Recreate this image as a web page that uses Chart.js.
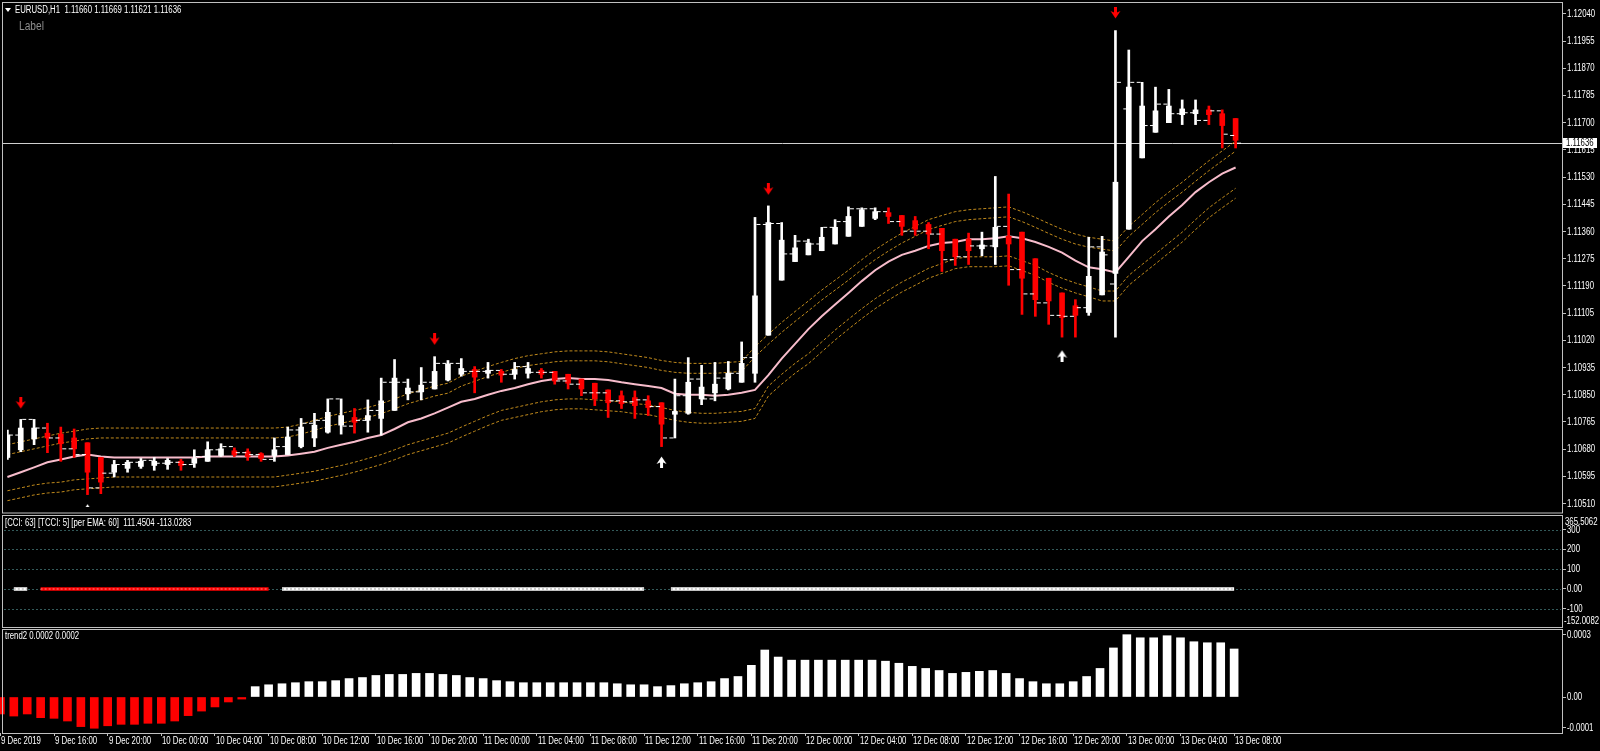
<!DOCTYPE html>
<html><head><meta charset="utf-8"><title>EURUSD,H1</title>
<script src="https://cdn.jsdelivr.net/npm/chart.js@4.4.1/dist/chart.umd.min.js"></script>
<style>
html,body{margin:0;padding:0;background:#000;}
body{position:relative;width:1600px;height:751px;overflow:hidden;}
canvas{position:absolute;left:0;}
.t{position:absolute;white-space:pre;color:#fff;font-family:"Liberation Sans",Arial,sans-serif;font-size:10px;line-height:12px;z-index:5;transform:scaleX(0.78);transform-origin:0 0;}
</style></head><body>
<canvas id="cMain" width="1600" height="514" style="top:0"></canvas>
<canvas id="cCci" width="1600" height="113" style="top:515px"></canvas>
<canvas id="cTrend" width="1600" height="123" style="top:628px"></canvas>
<div style="position:absolute;left:5px;top:8px;width:0;height:0;border-left:3px solid transparent;border-right:3px solid transparent;border-top:4px solid #fff;z-index:5"></div>
<div class="t" style="left:15px;top:4px">EURUSD,H1  1.11660 1.11669 1.11621 1.11636</div>
<div class="t" style="left:19px;top:20px;font-size:12px;color:#8c8c8c;transform:scaleX(0.85)">Label</div>
<div class="t" style="left:5px;top:517px">[CCI: 63] [TCCI: 5] [per EMA: 60]  111.4504 -113.0283</div>
<div class="t" style="left:5px;top:630px">trend2 0.0002 0.0002</div>
<script>
// ---------------- DATA ----------------
const X_TICK_BARS = [0,4,8,12,16,20,24,28,32,36,40,44,48,52,56,60,64,68,72,76,80,84,88,92];
const X_TICK_LABELS = ['9 Dec 2019','9 Dec 16:00','9 Dec 20:00','10 Dec 00:00','10 Dec 04:00','10 Dec 08:00','10 Dec 12:00','10 Dec 16:00','10 Dec 20:00','11 Dec 00:00','11 Dec 04:00','11 Dec 08:00','11 Dec 12:00','11 Dec 16:00','11 Dec 20:00','12 Dec 00:00','12 Dec 04:00','12 Dec 08:00','12 Dec 12:00','12 Dec 16:00','12 Dec 20:00','13 Dec 00:00','13 Dec 04:00','13 Dec 08:00'];

const PRICE_TICKS = [1.12040,1.11955,1.11870,1.11785,1.11700,1.11615,1.11530,1.11445,1.11360,1.11275,1.11190,1.11105,1.11020,1.10935,1.10850,1.10765,1.10680,1.10595,1.10510];
const PRICE_TICK_LABELS = ['1.12040','1.11955','1.11870','1.11785','1.11700','1.11615','1.11530','1.11445','1.11360','1.11275','1.11190','1.11105','1.11020','1.10935','1.10850','1.10765','1.10680','1.10595','1.10510'];
const LAST_PRICE = 1.11636;
const LAST_PRICE_LABEL = '1.11636';

// Heiken Ashi candles
const HA_OPEN = [1.10654,1.10678,1.10712,1.10730,1.10727,1.10715,1.10700,1.10654,1.10608,1.10620,
 1.10626,1.10629,1.10632,1.10642,1.10636,1.10642,1.10660,1.10675,1.10672,1.10666,
 1.10660,1.10663,1.10688,1.10715,1.10733,1.10755,1.10779,1.10770,1.10776,1.10801,
 1.10853,1.10859,1.10868,1.10896,1.10914,1.10929,1.10917,1.10923,1.10914,1.10917,
 1.10926,1.10923,1.10914,1.10899,1.10886,1.10865,1.10847,1.10841,1.10831,1.10825,
 1.10789,1.10792,1.10837,1.10856,1.10868,1.10889,1.10917,1.11036,1.11208,1.11266,
 1.11287,1.11300,1.11321,1.11345,1.11376,1.11401,1.11419,1.11410,1.11394,1.11382,
 1.11370,1.11336,1.11336,1.11306,1.11312,1.11345,1.11358,1.11275,1.11214,1.11168,
 1.11128,1.11107,1.11162,1.11229,1.11367,1.11590,1.11670,1.11700,1.11725,1.11728,
 1.11740,1.11728,1.11713];
const HA_CLOSE = [1.10724,1.10746,1.10746,1.10715,1.10697,1.10681,1.10608,1.10577,1.10632,1.10639,
 1.10642,1.10642,1.10645,1.10629,1.10651,1.10678,1.10681,1.10663,1.10657,1.10651,
 1.10678,1.10718,1.10749,1.10755,1.10795,1.10785,1.10764,1.10785,1.10831,1.10902,
 1.10871,1.10880,1.10923,1.10945,1.10932,1.10905,1.10926,1.10911,1.10929,1.10932,
 1.10914,1.10893,1.10886,1.10868,1.10837,1.10825,1.10822,1.10816,1.10810,1.10758,
 1.10798,1.10889,1.10874,1.10883,1.10917,1.10948,1.11159,1.11388,1.11333,1.11309,
 1.11324,1.11342,1.11373,1.11407,1.11428,1.11422,1.11407,1.11376,1.11367,1.11352,
 1.11300,1.11281,1.11300,1.11318,1.11373,1.11321,1.11214,1.11147,1.11143,1.11091,
 1.11098,1.11220,1.11296,1.11514,1.11811,1.11752,1.11737,1.11752,1.11743,1.11740,
 1.11725,1.11691,1.11645];
const HA_HIGH = [1.10740,1.10773,1.10773,1.10761,1.10749,1.10743,1.10700,1.10654,1.10645,1.10645,
 1.10651,1.10654,1.10651,1.10648,1.10678,1.10703,1.10697,1.10684,1.10681,1.10669,
 1.10715,1.10749,1.10776,1.10792,1.10837,1.10837,1.10807,1.10834,1.10902,1.10960,
 1.10899,1.10935,1.10969,1.10957,1.10963,1.10938,1.10951,1.10929,1.10951,1.10951,
 1.10932,1.10923,1.10914,1.10899,1.10886,1.10865,1.10862,1.10862,1.10847,1.10825,
 1.10899,1.10966,1.10942,1.10951,1.10954,1.11015,1.11404,1.11440,1.11388,1.11348,
 1.11336,1.11373,1.11397,1.11437,1.11434,1.11434,1.11434,1.11410,1.11407,1.11388,
 1.11370,1.11336,1.11355,1.11358,1.11532,1.11477,1.11358,1.11275,1.11214,1.11168,
 1.11147,1.11342,1.11345,1.11988,1.11927,1.11826,1.11811,1.11804,1.11771,1.11771,
 1.11752,1.11740,1.11713];
const HA_LOW = [1.10648,1.10672,1.10694,1.10669,1.10642,1.10654,1.10538,1.10541,1.10593,1.10608,
 1.10620,1.10614,1.10617,1.10614,1.10623,1.10642,1.10657,1.10657,1.10645,1.10642,
 1.10642,1.10663,1.10684,1.10688,1.10730,1.10727,1.10730,1.10733,1.10724,1.10801,
 1.10834,1.10834,1.10868,1.10893,1.10908,1.10856,1.10902,1.10889,1.10899,1.10902,
 1.10902,1.10883,1.10868,1.10847,1.10816,1.10779,1.10807,1.10776,1.10785,1.10688,
 1.10715,1.10789,1.10819,1.10831,1.10865,1.10889,1.10889,1.11036,1.11208,1.11266,
 1.11287,1.11300,1.11321,1.11345,1.11376,1.11397,1.11385,1.11348,1.11348,1.11306,
 1.11235,1.11254,1.11257,1.11284,1.11257,1.11192,1.11101,1.11095,1.11070,1.11030,
 1.11030,1.11098,1.11162,1.11030,1.11367,1.11590,1.11670,1.11700,1.11694,1.11694,
 1.11694,1.11621,1.11621];
// real bar open / close ticks
const BAR_OPEN = [1.10678,1.10724,1.10773,1.10746,1.10715,1.10681,1.10663,1.10559,1.10605,1.10632,
 1.10639,1.10645,1.10636,1.10639,1.10632,1.10657,1.10678,1.10688,1.10669,1.10663,
 1.10648,1.10688,1.10740,1.10761,1.10770,1.10837,1.10752,1.10770,1.10801,1.10889,
 1.10889,1.10859,1.10889,1.10948,1.10948,1.10923,1.10923,1.10926,1.10914,1.10938,
 1.10920,1.10920,1.10893,1.10883,1.10856,1.10856,1.10831,1.10828,1.10834,1.10813,
 1.10715,1.10847,1.10899,1.10837,1.10902,1.10917,1.10966,1.11382,1.11385,1.11290,
 1.11330,1.11321,1.11373,1.11391,1.11431,1.11431,1.11422,1.11391,1.11361,1.11361,
 1.11352,1.11272,1.11281,1.11315,1.11315,1.11376,1.11241,1.11165,1.11137,1.11098,
 1.11095,1.11122,1.11312,1.11196,1.11743,1.11826,1.11691,1.11758,1.11728,1.11731,
 1.11707,1.11737,1.11660];
const BAR_CLOSE = [1.10724,1.10773,1.10746,1.10715,1.10681,1.10663,1.10559,1.10605,1.10632,1.10639,
 1.10645,1.10636,1.10639,1.10632,1.10657,1.10678,1.10688,1.10669,1.10663,1.10648,
 1.10688,1.10740,1.10761,1.10770,1.10837,1.10752,1.10770,1.10801,1.10889,1.10889,
 1.10859,1.10889,1.10948,1.10948,1.10923,1.10923,1.10926,1.10914,1.10938,1.10920,
 1.10920,1.10893,1.10883,1.10856,1.10856,1.10831,1.10828,1.10834,1.10813,1.10715,
 1.10847,1.10899,1.10837,1.10902,1.10917,1.10966,1.11382,1.11385,1.11290,1.11330,
 1.11321,1.11373,1.11391,1.11431,1.11431,1.11422,1.11391,1.11361,1.11361,1.11352,
 1.11272,1.11281,1.11315,1.11315,1.11376,1.11241,1.11165,1.11137,1.11098,1.11095,
 1.11122,1.11312,1.11287,1.11826,1.11826,1.11691,1.11758,1.11728,1.11731,1.11707,
 1.11737,1.11664,1.11636];

// moving average and channel bands
const EMA = [1.10593,1.10608,1.10623,1.10639,1.10648,1.10657,1.10663,1.10657,1.10654,1.10654,
 1.10654,1.10654,1.10654,1.10654,1.10654,1.10657,1.10657,1.10657,1.10657,1.10657,
 1.10657,1.10660,1.10666,1.10672,1.10684,1.10694,1.10703,1.10715,1.10724,1.10743,
 1.10764,1.10776,1.10792,1.10810,1.10828,1.10837,1.10850,1.10862,1.10871,1.10883,
 1.10893,1.10899,1.10902,1.10899,1.10899,1.10896,1.10889,1.10883,1.10877,1.10871,
 1.10853,1.10850,1.10850,1.10847,1.10850,1.10856,1.10865,1.10911,1.10963,1.11009,
 1.11055,1.11095,1.11132,1.11168,1.11205,1.11239,1.11266,1.11287,1.11300,1.11315,
 1.11324,1.11327,1.11336,1.11336,1.11339,1.11345,1.11339,1.11327,1.11312,1.11294,
 1.11269,1.11248,1.11242,1.11232,1.11281,1.11330,1.11367,1.11407,1.11443,1.11483,
 1.11514,1.11541,1.11560];
const BAND_UP2 = [1.10694,1.10703,1.10712,1.10721,1.10730,1.10736,1.10743,1.10746,1.10746,1.10746,
 1.10746,1.10746,1.10746,1.10746,1.10746,1.10746,1.10746,1.10746,1.10746,1.10746,
 1.10746,1.10749,1.10758,1.10770,1.10782,1.10792,1.10801,1.10810,1.10822,1.10837,
 1.10853,1.10865,1.10877,1.10886,1.10908,1.10923,1.10938,1.10951,1.10963,1.10972,
 1.10978,1.10984,1.10987,1.10987,1.10987,1.10984,1.10978,1.10972,1.10966,1.10957,
 1.10951,1.10948,1.10948,1.10948,1.10951,1.10954,1.11000,1.11039,1.11076,1.11110,
 1.11143,1.11177,1.11208,1.11239,1.11272,1.11303,1.11330,1.11355,1.11376,1.11397,
 1.11410,1.11422,1.11428,1.11431,1.11434,1.11437,1.11422,1.11404,1.11385,1.11367,
 1.11352,1.11342,1.11336,1.11330,1.11376,1.11413,1.11450,1.11483,1.11514,1.11548,
 1.11581,1.11612,1.11642];
const BAND_UP1 = [1.10663,1.10672,1.10681,1.10690,1.10699,1.10705,1.10712,1.10715,1.10715,1.10715,
 1.10715,1.10715,1.10715,1.10715,1.10715,1.10715,1.10715,1.10715,1.10715,1.10715,
 1.10715,1.10718,1.10727,1.10739,1.10751,1.10761,1.10770,1.10779,1.10791,1.10806,
 1.10822,1.10834,1.10846,1.10855,1.10877,1.10892,1.10907,1.10920,1.10932,1.10941,
 1.10947,1.10953,1.10956,1.10956,1.10956,1.10953,1.10947,1.10941,1.10935,1.10926,
 1.10920,1.10917,1.10917,1.10917,1.10920,1.10923,1.10969,1.11008,1.11045,1.11079,
 1.11112,1.11146,1.11177,1.11208,1.11241,1.11272,1.11299,1.11324,1.11345,1.11366,
 1.11379,1.11391,1.11397,1.11400,1.11403,1.11406,1.11391,1.11373,1.11354,1.11336,
 1.11321,1.11311,1.11305,1.11299,1.11345,1.11382,1.11419,1.11452,1.11483,1.11517,
 1.11550,1.11581,1.11611];
const BAND_DN1 = [1.10550,1.10559,1.10568,1.10574,1.10577,1.10584,1.10587,1.10590,1.10593,1.10593,
 1.10593,1.10593,1.10593,1.10593,1.10593,1.10593,1.10593,1.10593,1.10593,1.10593,
 1.10593,1.10599,1.10605,1.10611,1.10620,1.10629,1.10639,1.10651,1.10663,1.10678,
 1.10694,1.10706,1.10718,1.10730,1.10749,1.10767,1.10785,1.10801,1.10810,1.10819,
 1.10828,1.10834,1.10837,1.10837,1.10834,1.10831,1.10828,1.10822,1.10819,1.10810,
 1.10801,1.10795,1.10792,1.10792,1.10795,1.10798,1.10807,1.10877,1.10914,1.10948,
 1.10978,1.11015,1.11052,1.11086,1.11119,1.11150,1.11177,1.11202,1.11223,1.11245,
 1.11260,1.11275,1.11281,1.11281,1.11281,1.11284,1.11269,1.11254,1.11232,1.11214,
 1.11199,1.11187,1.11174,1.11174,1.11223,1.11257,1.11290,1.11324,1.11358,1.11397,
 1.11434,1.11465,1.11495];
const BAND_DN2 = [1.10519,1.10528,1.10537,1.10543,1.10546,1.10553,1.10556,1.10559,1.10562,1.10562,
 1.10562,1.10562,1.10562,1.10562,1.10562,1.10562,1.10562,1.10562,1.10562,1.10562,
 1.10562,1.10568,1.10574,1.10580,1.10589,1.10598,1.10608,1.10620,1.10632,1.10647,
 1.10663,1.10675,1.10687,1.10699,1.10718,1.10736,1.10754,1.10770,1.10779,1.10788,
 1.10797,1.10803,1.10806,1.10806,1.10803,1.10800,1.10797,1.10791,1.10788,1.10779,
 1.10770,1.10764,1.10761,1.10761,1.10764,1.10767,1.10776,1.10846,1.10883,1.10917,
 1.10947,1.10984,1.11021,1.11055,1.11088,1.11119,1.11146,1.11171,1.11192,1.11214,
 1.11229,1.11244,1.11250,1.11250,1.11250,1.11253,1.11238,1.11223,1.11201,1.11183,
 1.11168,1.11156,1.11143,1.11143,1.11192,1.11226,1.11259,1.11293,1.11327,1.11366,
 1.11403,1.11434,1.11464];

// signal arrows
const DOWN_ARROW_BARS = [1, 32, 57, 83];
const DOWN_ARROW_PRICES = [1.10824, 1.11023, 1.11492, 1.12043];
const UP_ARROW_BARS = [6, 49, 79];
const UP_ARROW_PRICES = [1.10491, 1.10640, 1.10972];

// CCI state line (1 = up/white, -1 = down/red, 0 = none)
const CCI_STATE = [0,1,1,-1,-1,-1,-1,-1,-1,-1,
 -1,-1,-1,-1,-1,-1,-1,-1,-1,-1,
 -1,1,1,1,1,1,1,1,1,1,
 1,1,1,1,1,1,1,1,1,1,
 1,1,1,1,1,1,1,1,1,0,
 1,1,1,1,1,1,1,1,1,1,
 1,1,1,1,1,1,1,1,1,1,
 1,1,1,1,1,1,1,1,1,1,
 1,1,1,1,1,1,1,1,1,1,
 1,1,1];
const CCI_LEVELS = [300, 200, 100, 0, -100];
const CCI_TICK_LABELS = ['300','200','100','0.00','-100'];
const CCI_WINDOW_LABELS = ['365.5062', '-152.0082'];

// trend2 histogram
const TREND = [-0.000082,-0.000092,-0.000082,-0.000100,-0.000103,-0.000116,-0.000143,-0.000151,-0.000139,-0.000132,
 -0.000132,-0.000127,-0.000127,-0.000116,-0.000090,-0.000068,-0.000048,-0.000024,-0.000010,0.000050,
 0.000059,0.000064,0.000069,0.000074,0.000074,0.000079,0.000089,0.000094,0.000104,0.000109,
 0.000109,0.000114,0.000114,0.000109,0.000104,0.000094,0.000089,0.000079,0.000074,0.000069,
 0.000069,0.000069,0.000069,0.000069,0.000069,0.000069,0.000064,0.000059,0.000059,0.000050,
 0.000055,0.000064,0.000069,0.000074,0.000089,0.000099,0.000153,0.000227,0.000193,0.000178,
 0.000178,0.000178,0.000178,0.000178,0.000178,0.000178,0.000173,0.000163,0.000148,0.000138,
 0.000128,0.000114,0.000119,0.000124,0.000128,0.000114,0.000089,0.000074,0.000064,0.000064,
 0.000074,0.000099,0.000138,0.000237,0.000301,0.000286,0.000286,0.000296,0.000286,0.000267,
 0.000262,0.000262,0.000232];
const TREND_TICKS = [0.0003, 0];
const TREND_TICK_LABELS = ['0.0003', '0.00'];
const TREND_MIN_LABEL = '-0.0001';

// ---------------- STYLE ----------------
const FONT = '"Liberation Sans", Arial, sans-serif';
const TXT_SX = 0.78;           // horizontal squeeze to mimic the narrow terminal font
const RED = '#ff0000', WHITE = '#ffffff', AXIS = '#c0c0c0';
const BAND_COLOR = '#c08a1c', EMA_COLOR = '#f7bccb';
const X_MIN = -0.03, X_MAX = 116.45;
const P_MIN = 1.104993, P_MAX = 1.120614;
const CCI_MIN = -197.47, CCI_MAX = 374.68;
const T_MIN = -0.00017391, T_MAX = 0.00033333;
const TICK_SHIFT = 0.26;

Chart.defaults.animation = false;

function label(c, text, x, y, color) {
  c.save(); c.translate(x, y); c.scale(TXT_SX, 1);
  c.font = '10px ' + FONT; c.textBaseline = 'middle'; c.textAlign = 'left';
  c.fillStyle = color || WHITE; c.fillText(text, 0, 0); c.restore();
}
function xAxis(show) {
  const o = {type:'linear', min:X_MIN, max:X_MAX, offset:false, display:show, grid:{display:false, offset:false}};
  if (show) {
    Object.assign(o, {
      position:'bottom',
      afterBuildTicks: s => { s.ticks = X_TICK_BARS.map(v => ({value:v})); },
      afterFit: s => { s.height = 18; s.paddingLeft = 0; s.paddingRight = 0; },
      ticks:{display:false, autoSkip:false, maxRotation:0, minRotation:0},
      grid:{display:true, offset:false, drawOnChartArea:false, drawTicks:true, tickLength:3, tickColor:AXIS, color:AXIS},
      border:{display:false}
    });
  }
  return o;
}
function yAxis(min, max, ticks) {
  return {
    type:'linear', position:'right', min, max, beginAtZero:false,
    afterBuildTicks: s => { s.ticks = ticks.map(v => ({value:v})); },
    afterFit: s => { s.width = 38; s.paddingTop = 0; s.paddingBottom = 0; },
    ticks:{display:false, autoSkip:false},
    grid:{drawOnChartArea:false, drawTicks:true, tickLength:4, tickColor:AXIS, color:AXIS, offset:false},
    border:{display:false}
  };
}
function yLabelsPlugin(ticks, labels) {
  return { id:'yLabels', afterDraw(chart) {
    const s = chart.scales.y, c = chart.ctx;
    ticks.forEach((v,i) => label(c, labels[i], 1567, Math.round(s.getPixelForValue(v)) + 0.5));
  }};
}
function borderPlugin(top, bottom) {
  return { id:'panelBorder', afterDraw(chart) {
    const c = chart.ctx; c.save(); c.strokeStyle = AXIS; c.lineWidth = 1;
    c.strokeRect(2.5, top, 1560, bottom - top); c.restore();
  }};
}
function arrowImg(color, down) {
  const c = document.createElement('canvas'); c.width = 11; c.height = 12;
  const g = c.getContext('2d'); g.fillStyle = color; g.beginPath();
  const pts = [[4,0],[7,0],[7,5.5],[10.5,4],[5.5,11.5],[0.5,4],[4,5.5]];
  pts.forEach(([x,y],k) => { const yy = down ? y : 12 - y; if (k) g.lineTo(x,yy); else g.moveTo(x,yy); });
  g.closePath(); g.fill(); return c;
}
const pts = arr => arr.map((v,i) => ({x:i, y:v}));
const candleColor = HA_OPEN.map((o,i) => HA_CLOSE[i] >= o ? WHITE : RED);
const bandDs = arr => ({type:'line', data:pts(arr), borderColor:BAND_COLOR, borderWidth:1, borderDash:[3,2], pointRadius:0, order:10});
const common = {responsive:false, devicePixelRatio:1, animation:false, events:[],
  plugins:{legend:{display:false}, tooltip:{enabled:false}}};

// ---------------- MAIN PRICE PANEL ----------------
new Chart(document.getElementById('cMain'), {
  type:'bar',
  data:{datasets:[
    bandDs(BAND_UP2), bandDs(BAND_UP1), bandDs(BAND_DN1), bandDs(BAND_DN2),
    {type:'line', data:pts(EMA), borderColor:EMA_COLOR, borderWidth:2, pointRadius:0, order:9},
    {type:'bar', data:HA_HIGH.map((h,i) => ({x:i, y:[HA_LOW[i], h]})), backgroundColor:candleColor, barThickness:2, grouped:false, borderWidth:0, order:6},
    {type:'bar', data:HA_OPEN.map((o,i) => ({x:i, y:[o, HA_CLOSE[i]]})), backgroundColor:candleColor, barThickness:5, grouped:false, borderWidth:0, order:5},
    {type:'scatter', data:BAR_OPEN.map((v,i) => ({x:i - TICK_SHIFT, y:v})), pointStyle:'line', pointRadius:2, pointBorderWidth:1, pointBorderColor:WHITE, borderColor:WHITE, order:4},
    {type:'scatter', data:BAR_CLOSE.map((v,i) => ({x:i + TICK_SHIFT, y:v})), pointStyle:'line', pointRadius:2, pointBorderWidth:1, pointBorderColor:WHITE, borderColor:WHITE, order:4},
    {type:'scatter', data:DOWN_ARROW_BARS.map((b,k) => ({x:b, y:DOWN_ARROW_PRICES[k]})), pointStyle:arrowImg(RED, true), pointRadius:6, order:1},
    {type:'scatter', data:UP_ARROW_BARS.map((b,k) => ({x:b, y:UP_ARROW_PRICES[k]})), pointStyle:arrowImg(WHITE, false), pointRadius:6, order:1}
  ]},
  options:Object.assign({}, common, {
    layout:{padding:{top:3, bottom:1, left:0, right:0}},
    scales:{x:xAxis(false), y:yAxis(P_MIN, P_MAX, PRICE_TICKS)}
  }),
  plugins:[borderPlugin(2.5, 513), yLabelsPlugin(PRICE_TICKS, PRICE_TICK_LABELS), {
    id:'priceLine',
    beforeDatasetsDraw(chart) {
      const y = Math.round(chart.scales.y.getPixelForValue(LAST_PRICE)) + 0.5, c = chart.ctx;
      c.save(); c.strokeStyle = '#d0d0d0'; c.lineWidth = 1; c.beginPath(); c.moveTo(3, y); c.lineTo(1562, y); c.stroke(); c.restore();
    },
    afterDraw(chart) {
      const y = Math.round(chart.scales.y.getPixelForValue(LAST_PRICE)), c = chart.ctx;
      c.save(); c.fillStyle = WHITE; c.fillRect(1563, y - 5, 34, 10); c.restore();
      label(c, LAST_PRICE_LABEL, 1566, y + 0.5, '#000');
    }
  }]
});

// ---------------- CCI PANEL ----------------
const segColor = (ctx, light) => {
  const a = CCI_STATE[ctx.p0DataIndex], b = CCI_STATE[ctx.p1DataIndex];
  if (a !== b) return 'rgba(0,0,0,0)';
  return a > 0 ? (light ? '#9a9a9a' : WHITE) : (light ? '#ff8a8a' : RED);
};
const cciLine = CCI_STATE.map((s,i) => ({x:i, y: s === 0 ? null : 0}));
new Chart(document.getElementById('cCci'), {
  type:'line',
  data:{datasets:[
    {data:cciLine, borderColor:WHITE, borderWidth:3.5, pointRadius:0, spanGaps:false, borderCapStyle:'butt', segment:{borderColor:ctx => segColor(ctx,false)}, order:2},
    {data:cciLine, borderColor:WHITE, borderWidth:1, borderDash:[2,2], pointRadius:0, spanGaps:false, segment:{borderColor:ctx => segColor(ctx,true)}, order:1}
  ]},
  options:Object.assign({}, common, {
    layout:{padding:0},
    scales:{x:xAxis(false), y:yAxis(CCI_MIN, CCI_MAX, CCI_LEVELS)}
  }),
  plugins:[borderPlugin(0.5, 112.5), yLabelsPlugin(CCI_LEVELS, CCI_TICK_LABELS), {
    id:'cciGrid',
    beforeDatasetsDraw(chart) {
      const c = chart.ctx, s = chart.scales.y; c.save(); c.strokeStyle = '#335a5a'; c.lineWidth = 1; c.setLineDash([2,2]);
      CCI_LEVELS.forEach(v => { const y = Math.round(s.getPixelForValue(v)) + 0.5; c.beginPath(); c.moveTo(4, y); c.lineTo(1561, y); c.stroke(); });
      c.restore();
    },
    afterDraw(chart) {
      const c = chart.ctx, a = chart.chartArea;
      label(c, CCI_WINDOW_LABELS[0], 1565, a.top + 7);
      label(c, CCI_WINDOW_LABELS[1], 1564, a.bottom - 7);
    }
  }]
});

// ---------------- TREND2 PANEL ----------------
new Chart(document.getElementById('cTrend'), {
  type:'bar',
  data:{datasets:[
    {data:pts(TREND), backgroundColor:TREND.map(v => v < 0 ? RED : WHITE), barThickness:8, grouped:false, borderWidth:0}
  ]},
  options:Object.assign({}, common, {
    layout:{padding:0},
    scales:{x:xAxis(true), y:yAxis(T_MIN, T_MAX, TREND_TICKS)}
  }),
  plugins:[borderPlugin(1.5, 105.5), yLabelsPlugin(TREND_TICKS, TREND_TICK_LABELS), {
    id:'trendExtras',
    afterDraw(chart) {
      const c = chart.ctx, a = chart.chartArea, sx = chart.scales.x;
      c.save(); c.strokeStyle = AXIS; c.lineWidth = 1; c.beginPath(); c.moveTo(1562, a.bottom - 5.5); c.lineTo(1566, a.bottom - 5.5); c.stroke(); c.restore();
      label(c, TREND_MIN_LABEL, 1567, a.bottom - 5);
      X_TICK_BARS.forEach((b,i) => label(c, X_TICK_LABELS[i], Math.round(sx.getPixelForValue(b)) + 1, a.bottom + 8.5));
    }
  }]
});
</script>
</body></html>
